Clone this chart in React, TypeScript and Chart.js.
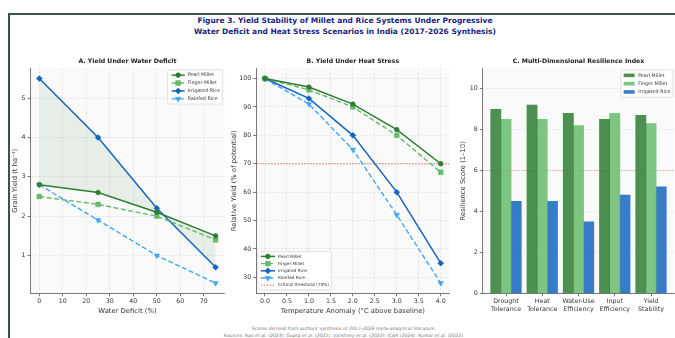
import React, { useEffect, useRef } from 'react';
import { Chart, registerables } from 'chart.js';
import { drawPoint } from 'chart.js/helpers';

Chart.register(...registerables);
Chart.defaults.font.family = '"DejaVu Sans", sans-serif';

// ---------- DATA ----------
const seriesNames = ['Pearl Millet', 'Finger Millet', 'Irrigated Rice', 'Rainfed Rice'];

const waterDeficit = [0, 25, 50, 75];
const pearlWater = [2.8, 2.6, 2.1, 1.5];
const fingerWater = [2.5, 2.3, 2.0, 1.4];
const irrigatedWater = [5.5, 4.0, 2.2, 0.7];
const rainfedWater = [2.8, 1.9, 1.0, 0.3];
const waterTicksX = [0, 10, 20, 30, 40, 50, 60, 70];
const waterTicksY = [1, 2, 3, 4, 5];

const tempAnomaly = [0, 1, 2, 3, 4];
const pearlHeat = [100, 97, 91, 82, 70];
const fingerHeat = [100, 96, 90, 80, 67];
const irrigatedHeat = [100, 93, 80, 60, 35];
const rainfedHeat = [100, 91, 75, 52, 28];
const heatTicksX = [0, 0.5, 1, 1.5, 2, 2.5, 3, 3.5, 4];
const heatTicksY = [30, 40, 50, 60, 70, 80, 90, 100];
const heatThreshold = 70;
const thresholdLabel = 'Critical threshold (70%)';

const dimensions = ['Drought Tolerance', 'Heat Tolerance', 'Water-Use Efficiency', 'Input Efficiency', 'Yield Stability'];
const pearlScore = [9.0, 9.2, 8.8, 8.5, 8.7];
const fingerScore = [8.5, 8.5, 8.2, 8.8, 8.3];
const irrigatedScore = [4.5, 4.5, 3.5, 4.8, 5.2];
const scoreTicksY = [0, 2, 4, 6, 8, 10];
const scoreThreshold = 6;

// ---------- STYLE ----------
const C_PEARL = '#2e7d32';
const C_FINGER = '#66bb6a';
const C_IRR = '#1565c0';
const C_RAIN = '#42a5f5';

const lineStyles: any[] = [
  { color: C_PEARL, dash: [], point: 'circle', r: 2.4, rot: 0, w: 1.5 },
  { color: C_FINGER, dash: [5, 2.5], point: 'rect', r: 3.4, rot: 0, w: 1.4 },
  { color: C_IRR, dash: [], point: 'rectRot', r: 3.0, rot: 0, w: 1.5 },
  { color: C_RAIN, dash: [5, 2.5], point: 'triangle', r: 3.2, rot: 180, w: 1.4 },
];

function lineDataset(i: number, xs: number[], ys: number[], extra: any = {}) {
  const s = lineStyles[i];
  return {
    type: 'line',
    label: seriesNames[i],
    data: xs.map((x, k) => ({ x, y: ys[k] })),
    borderColor: s.color,
    backgroundColor: s.color,
    borderWidth: s.w,
    borderDash: s.dash,
    pointStyle: s.point,
    pointRadius: s.r,
    pointRotation: s.rot,
    pointBackgroundColor: s.color,
    pointBorderColor: s.color,
    pointBorderWidth: 0.5,
    tension: 0,
    fill: false,
    ...extra,
  };
}

const plotBg = {
  id: 'plotBg',
  beforeDraw(chart: any) {
    const { ctx, chartArea } = chart;
    if (!chartArea) return;
    ctx.save();
    ctx.fillStyle = '#fafafa';
    ctx.fillRect(chartArea.left, chartArea.top, chartArea.width, chartArea.height);
    ctx.restore();
  },
};

const boxLegend = {
  id: 'boxLegend',
  afterDraw(chart: any, _a: any, o: any) {
    if (!o || !o.corner) return;
    const { ctx, chartArea: ca } = chart;
    const items = chart.data.datasets.filter((d: any) => d.label && !d.noLegend);
    ctx.save();
    ctx.font = `${o.fontSize}px "DejaVu Sans"`;
    const tw = Math.max(...items.map((d: any) => ctx.measureText(d.label).width));
    const w = o.padX + o.sampleLen + o.gap + tw + o.padR;
    const h = o.padY * 2 + items.length * o.rowH;
    let x0: number, y0: number;
    if (o.corner === 'tr') {
      x0 = ca.right - o.dx - w;
      y0 = ca.top + o.dy;
    } else {
      x0 = ca.left + o.dx;
      y0 = ca.bottom - o.dy - h;
    }
    ctx.beginPath();
    ctx.roundRect(x0, y0, w, h, 1.5);
    ctx.fillStyle = 'rgba(255,255,255,0.85)';
    ctx.fill();
    ctx.strokeStyle = '#d0d0d0';
    ctx.lineWidth = 0.6;
    ctx.stroke();
    items.forEach((d: any, i: number) => {
      const cy = y0 + o.padY + o.rowH * (i + 0.5);
      const sx = x0 + o.padX;
      if (o.patch) {
        ctx.fillStyle = d.backgroundColor;
        ctx.fillRect(sx, cy - o.patchH / 2, o.sampleLen, o.patchH);
      } else {
        ctx.save();
        ctx.strokeStyle = d.borderColor;
        ctx.lineWidth = d.borderWidth;
        ctx.setLineDash(d.borderDash || []);
        ctx.beginPath();
        ctx.moveTo(sx, cy);
        ctx.lineTo(sx + o.sampleLen, cy);
        ctx.stroke();
        ctx.restore();
        if (d.pointRadius > 0) {
          ctx.save();
          ctx.fillStyle = d.borderColor;
          ctx.strokeStyle = d.borderColor;
          drawPoint(ctx, { pointStyle: d.pointStyle, radius: d.pointRadius, rotation: d.pointRotation || 0, borderWidth: 0.5 } as any, sx + o.sampleLen / 2, cy);
          ctx.restore();
        }
      }
      ctx.fillStyle = '#333';
      ctx.textBaseline = 'middle';
      ctx.textAlign = 'left';
      ctx.fillText(d.label, sx + o.sampleLen + o.gap, cy);
    });
    ctx.restore();
  },
};

function axis(o: any) {
  return {
    type: 'linear',
    min: o.min,
    max: o.max,
    offset: false,
    afterBuildTicks: (s: any) => {
      s.ticks = o.ticks.map((v: number) => ({ value: v }));
    },
    afterFit: (s: any) => {
      if (o.horizontal) s.height = o.size;
      else s.width = o.size;
    },
    grid: {
      display: true,
      drawOnChartArea: o.grid !== false,
      color: 'rgba(170,170,170,0.45)',
      lineWidth: 0.6,
      drawTicks: true,
      tickLength: 3,
      tickColor: '#555',
      tickWidth: 0.8,
      tickBorderDash: [],
      offset: false,
    },
    border: { display: true, color: '#555', width: 0.8, dash: [2, 2] },
    ticks: {
      font: { size: 6.3, lineHeight: 1.12 },
      color: '#333',
      padding: 2,
      autoSkip: false,
      maxRotation: 0,
      minRotation: 0,
      callback: o.cb || ((v: any) => String(v)),
    },
    title: {
      display: !!o.title,
      text: o.title,
      font: { size: 6.8, lineHeight: 1.2 },
      color: '#333',
      padding: o.horizontal ? { top: 0, bottom: o.tp } : { top: o.tp, bottom: 0 },
    },
  };
}

function baseOptions(title: string, padRight: number, legend: any, scales: any) {
  return {
    responsive: false,
    animation: false,
    devicePixelRatio: 1,
    events: [],
    layout: { padding: { left: 0, right: padRight, top: 0, bottom: 1.7 } },
    plugins: {
      legend: { display: false },
      tooltip: { enabled: false },
      title: {
        display: true,
        text: title,
        fullSize: false,
        color: '#222',
        font: { size: 6.2, weight: 'bold', lineHeight: 1.2 },
        padding: { top: 7.4, bottom: 3.46 },
      },
      boxLegend: legend,
    },
    scales,
  };
}

function configA(): any {
  return {
    type: 'line',
    data: {
      datasets: [
        lineDataset(0, waterDeficit, pearlWater),
        lineDataset(1, waterDeficit, fingerWater),
        lineDataset(2, waterDeficit, irrigatedWater, {
          fill: { target: 0, above: 'rgba(46,125,50,0.09)', below: 'rgba(46,125,50,0.09)' },
        }),
        lineDataset(3, waterDeficit, rainfedWater),
      ],
    },
    options: baseOptions(
      'A. Yield Under Water Deficit',
      15.6,
      { corner: 'tr', dx: 2, dy: 1.7, fontSize: 4.8, rowH: 7.9, padX: 4, padR: 2.5, padY: 1.2, sampleLen: 13, gap: 3 },
      {
        x: axis({ min: -3.75, max: 78.75, ticks: waterTicksX, horizontal: true, size: 30, title: 'Water Deficit (%)', tp: 7.5 }),
        y: axis({ min: 0.04, max: 5.76, ticks: waterTicksY, size: 30.5, title: 'Grain Yield (t ha⁻¹)', tp: 10.9 }),
      }
    ),
    plugins: [plotBg, boxLegend],
  };
}

function configB(): any {
  return {
    type: 'line',
    data: {
      datasets: [
        lineDataset(0, tempAnomaly, pearlHeat),
        lineDataset(1, tempAnomaly, fingerHeat),
        lineDataset(2, tempAnomaly, irrigatedHeat),
        lineDataset(3, tempAnomaly, rainfedHeat),
        {
          type: 'line',
          label: thresholdLabel,
          data: [
            { x: -0.2, y: heatThreshold },
            { x: 4.2, y: heatThreshold },
          ],
          borderColor: 'rgba(229,57,53,0.75)',
          borderWidth: 1,
          borderDash: [1.5, 1.5],
          pointRadius: 0,
          fill: false,
        },
      ],
    },
    options: baseOptions(
      'B. Yield Under Heat Stress',
      15.5,
      { corner: 'bl', dx: 1.8, dy: 3.3, fontSize: 4.3, rowH: 7.2, padX: 2.7, padR: 2.5, padY: 1.2, sampleLen: 14.3, gap: 3 },
      {
        x: axis({ min: -0.2, max: 4.2, ticks: heatTicksX, horizontal: true, size: 30, title: 'Temperature Anomaly (°C above baseline)', tp: 7.5, cb: (v: number) => v.toFixed(1) }),
        y: axis({ min: 24.4, max: 103.6, ticks: heatTicksY, size: 31.2, title: 'Relative Yield (% of potential)', tp: 4.9 }),
      }
    ),
    plugins: [plotBg, boxLegend],
  };
}

function configC(): any {
  const barColors = ['rgba(46,125,50,0.85)', 'rgba(102,187,106,0.85)', 'rgba(21,101,192,0.85)'];
  const scores = [pearlScore, fingerScore, irrigatedScore];
  const bars = scores.map((vals, i) => ({
    type: 'bar',
    label: seriesNames[i],
    data: vals.map((y, k) => ({ x: k, y })),
    backgroundColor: barColors[i],
    borderWidth: 0,
    barThickness: 10.2,
  }));
  return {
    type: 'bar',
    data: {
      datasets: [
        ...bars,
        {
          type: 'line',
          label: 'threshold',
          noLegend: true,
          data: [
            { x: -0.64, y: scoreThreshold },
            { x: 4.64, y: scoreThreshold },
          ],
          borderColor: 'rgba(229,57,53,0.55)',
          borderWidth: 0.8,
          borderDash: [1.5, 1.5],
          pointRadius: 0,
          fill: false,
        },
      ],
    },
    options: baseOptions(
      'C. Multi-Dimensional Resilience Index',
      0.8,
      { corner: 'tr', dx: 1.3, dy: 1.7, fontSize: 4.8, rowH: 8.3, padX: 2.5, padR: 2.5, padY: 1.2, sampleLen: 11, gap: 3.5, patch: true, patchH: 3.6 },
      {
        x: axis({
          min: -0.64,
          max: 4.64,
          ticks: dimensions.map((_, i) => i),
          horizontal: true,
          size: 30,
          grid: false,
          cb: (v: number) => (dimensions[v] || '').split(' '),
        }),
        y: axis({ min: 0, max: 11, ticks: scoreTicksY, size: 32.8, title: 'Resilience Score (1–10)', tp: 8.9 }),
      }
    ),
    plugins: [plotBg, boxLegend],
  };
}

export default function App() {
  const a = useRef<HTMLCanvasElement>(null);
  const b = useRef<HTMLCanvasElement>(null);
  const c = useRef<HTMLCanvasElement>(null);
  useEffect(() => {
    const charts = [
      new Chart(a.current as HTMLCanvasElement, configA()),
      new Chart(b.current as HTMLCanvasElement, configB()),
      new Chart(c.current as HTMLCanvasElement, configC()),
    ];
    return () => charts.forEach((ch) => ch.destroy());
  }, []);

  const canvasStyle = (left: number, width: number): React.CSSProperties => ({
    position: 'absolute',
    left,
    top: 50,
    width,
    height: 275,
  });

  return (
    <div style={{ position: 'fixed', left: 0, top: 0, width: 675, height: 338, overflow: 'hidden', background: '#fff' }}>
      <div
        style={{
          position: 'absolute',
          left: 8,
          top: 13,
          width: 700,
          height: 400,
          border: '2px solid #3e5249',
          boxSizing: 'border-box',
        }}
      />
      <div
        style={{
          position: 'absolute',
          left: 0,
          width: 690,
          top: 15,
          textAlign: 'center',
          fontFamily: '"DejaVu Sans", sans-serif',
          fontWeight: 'bold',
          fontSize: 7.5,
          lineHeight: '11px',
          color: '#1a237e',
        }}
      >
        <div>Figure 3. Yield Stability of Millet and Rice Systems Under Progressive</div>
        <div>Water Deficit and Heat Stress Scenarios in India (2017-2026 Synthesis)</div>
      </div>
      <canvas ref={a} width={240} height={275} style={canvasStyle(0, 240)} />
      <canvas ref={b} width={240} height={275} style={canvasStyle(225, 240)} />
      <canvas ref={c} width={225} height={275} style={canvasStyle(450, 225)} />
      <div
        style={{
          position: 'absolute',
          left: 0,
          width: 688,
          top: 324.5,
          textAlign: 'center',
          fontFamily: '"DejaVu Sans", sans-serif',
          fontStyle: 'italic',
          fontSize: 4.6,
          lineHeight: '7px',
          color: '#777',
        }}
      >
        <div>Scores derived from authors' synthesis of 2017–2026 meta-analytical literature.</div>
        <div>Sources: Rao et al. (2023); Gupta et al. (2021); Varshney et al. (2022); ICAR (2024); Kumar et al. (2022).</div>
      </div>
    </div>
  );
}
